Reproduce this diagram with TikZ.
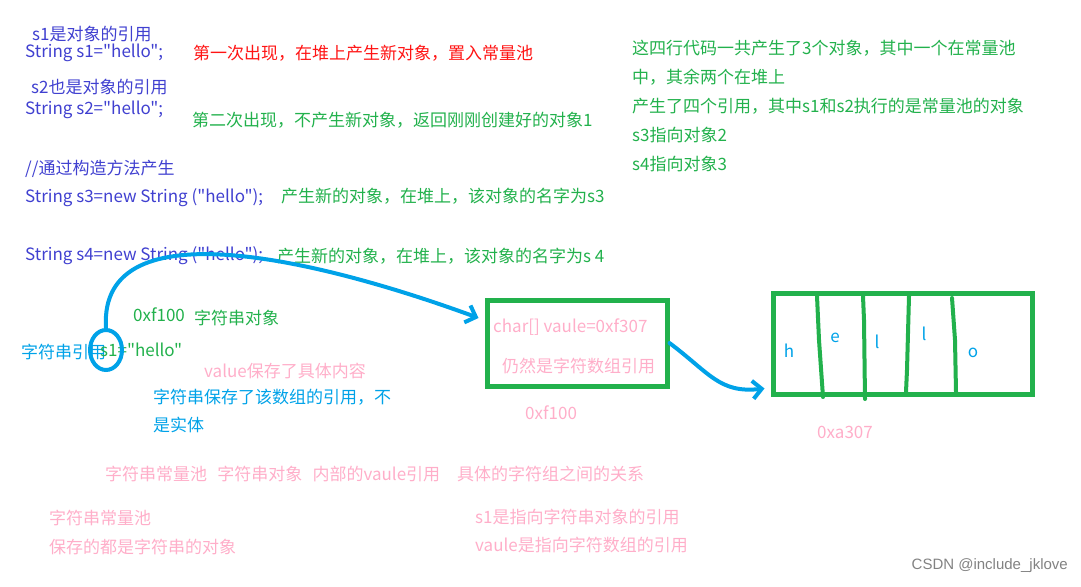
\documentclass[tikz,border=0pt]{standalone}
\usepackage{fontspec}
\newfontfamily\cjk{Noto Sans CJK SC}
\newfontfamily\wmfont{Liberation Sans}
\usetikzlibrary{arrows.meta,shapes.geometric}
\definecolor{codeblue}{RGB}{64,64,208}
\definecolor{redtxt}{RGB}{255,20,20}
\definecolor{greentxt}{RGB}{34,177,76}
\definecolor{penblue}{RGB}{0,162,232}
\definecolor{pinktxt}{RGB}{255,174,201}
\definecolor{wmgrey}{RGB}{130,130,130}
\begin{document}
\begin{tikzpicture}[x=1pt,y=-1pt,
  every node/.style={anchor=west,inner sep=0pt,font=\cjk\fontsize{17}{20}\selectfont},
  code/.style={text=codeblue},
  note/.style={text=greentxt},
  pinknote/.style={text=pinktxt},
  pen/.style={text=penblue},
  memBox/.style={draw=greentxt,line width=5pt,anchor=center,minimum width=#1},
  stroke/.style={penblue,line width=4pt,line cap=round,line join=round},
  divider/.style={greentxt,line width=4pt,line cap=round}]
  \useasboundingbox (0,0) rectangle (1081,586);
  \node[code] (c1) at (32,34) {s1是对象的引用};
  \node[code] (c2) at (25,53) {String s1="hello";};
  \node[text=redtxt] (n1) at (193,53) {第一次出现，在堆上产生新对象，置入常量池};
  \node[code] (c3) at (31,87) {s2也是对象的引用};
  \node[code] (c4) at (25,110) {String s2="hello";};
  \node[note] (n2) at (192,120) {第二次出现，不产生新对象，返回刚刚创建好的对象1};
  \node[code] (c5) at (25,169) {//通过构造方法产生};
  \node[code] (c6) at (25,198) {String s3=new String ("hello");};
  \node[note] (n3) at (281,196) {产生新的对象，在堆上，该对象的名字为s3};
  \node[code] (c7) at (25,256) {String s4=new String ("hello");};
  \node[note] (n4) at (277,256) {产生新的对象，在堆上，该对象的名字为s 4};
  \node[note] (r1) at (632,48) {这四行代码一共产生了3个对象，其中一个在常量池};
  \node[note] (r2) at (632,77) {中，其余两个在堆上};
  \node[note] (r3) at (632,106) {产生了四个引用，其中s1和s2执行的是常量池的对象};
  \node[note] (r4) at (632,135) {s3指向对象2};
  \node[note] (r5) at (632,164) {s4指向对象3};

  \node[note] (addr1) at (133,315) {0xf100};
  \node[note] (strobj) at (194,318) {字符串对象};
  \node[pen] (ref) at (21,352) {字符串引用};
  \node[note] (s1) at (100,350) {s1="hello"};
  \node[pinknote] (val) at (204,371) {value保存了具体内容};
  \node[pen] (keep1) at (153,397) {字符串保存了该数组的引用，不};
  \node[pen] (keep2) at (153,425) {是实体};
  \node[draw=penblue,line width=4pt,ellipse,minimum width=32,minimum height=40,anchor=center] (ring) at (106,350) {};

  \node[memBox=180,minimum height=86] (b1) at (577,343) {};
  \node[pinknote] (arr) at (493,327) {char[] vaule=0xf307};
  \node[pinknote] (arrnote) at (502,366) {仍然是字符数组引用};
  \node[pinknote] (addr2) at (525,413) {0xf100};

  \node[memBox=259,minimum height=101] (b2) at (902.5,343.5) {};
  \draw[divider] (817,296) -- (819,340) -- (823,397);
  \draw[divider] (863,296) -- (864,320) -- (865,399);
  \draw[divider] (909,296) -- (907,370) -- (906,392);
  \draw[divider] (952,298) -- (955,340) -- (956,392);
  \node[pen,anchor=center] (h) at (789,351) {h};
  \node[pen,anchor=center] (e) at (835,338) {e};
  \node[pen,anchor=center] (l1) at (877,342) {l};
  \node[pen,anchor=center] (l2) at (924,334) {l};
  \node[pen,anchor=center] (o) at (973,353) {o};
  \node[pinknote] (addr3) at (817,432) {0xa307};

  \draw[stroke,-{Straight Barb[length=9pt,width=18pt]}] (ring.north) .. controls +(-8,-125) and +(-150,-55) .. ([shift={(-6,-25)}]b1.west);
  \draw[stroke,-{Straight Barb[length=9pt,width=18pt]}] (b1.east) .. controls +(40,30) and +(-45,5) .. ([shift={(-6,-8)}]b2.south west);

  \node[pinknote] (rel) at (105,474) {字符串常量池\hspace{0.6em}字符串对象\hspace{0.6em}内部的vaule引用\hspace{1em}具体的字符组之间的关系};
  \node[pinknote] (pool1) at (49,518) {字符串常量池};
  \node[pinknote] (pool2) at (49,547) {保存的都是字符串的对象};
  \node[pinknote] (ptr1) at (475,517) {s1是指向字符串对象的引用};
  \node[pinknote] (ptr2) at (475,545) {vaule是指向字符数组的引用};
  \node[text=wmgrey,anchor=east,font=\wmfont\fontsize{15}{18}\selectfont] (wm) at (1068,566) {CSDN @include\_jklove};
\end{tikzpicture}
\end{document}
